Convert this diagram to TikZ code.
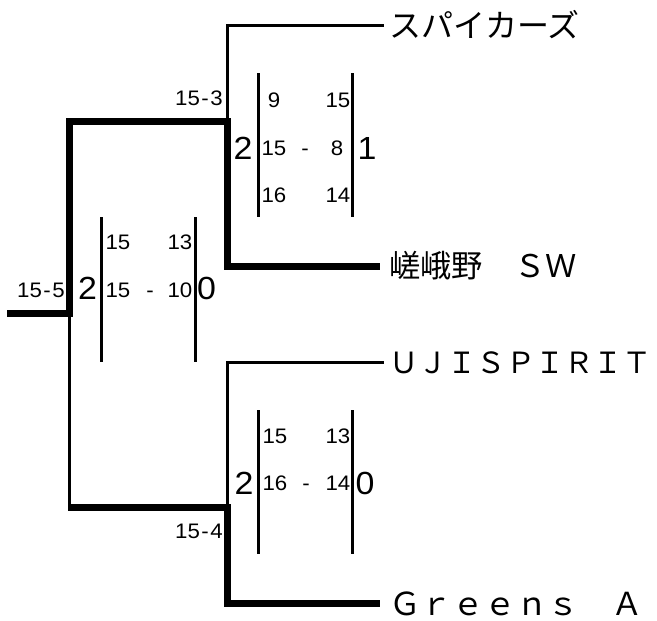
\documentclass[tikz,border=0pt]{standalone}
\usepackage{fontspec}
\setmainfont{Liberation Sans}
\newfontfamily\numfont[FakeStretch=1.06]{Liberation Sans}
\newfontfamily\jpfont{Noto Sans CJK JP}
\newcommand{\hy}{\kern1.5pt-\kern1.5pt}
\begin{document}
\begin{tikzpicture}[x=1pt,y=-1pt,
  thinline/.style={line width=3pt},
  thickline/.style={line width=7pt},
  bar/.style={line width=3pt},
  team/.style={anchor=west,inner sep=0pt,font=\jpfont\fontsize{#1}{#1}\selectfont},
  sc/.style={inner sep=0pt,text height=15pt,text depth=0pt,font=\numfont\fontsize{21}{21}\selectfont},
  big/.style={inner sep=0pt,text height=22.9pt,text depth=0pt,font=\numfont\fontsize{32}{32}\selectfont},
  lab/.style={sc,anchor=east}]
\useasboundingbox (0,0) rectangle (657,621);
% junctions
\coordinate (root) at (7,313.5);
\coordinate (f) at (69,313.5);
\coordinate (s1) at (227,121);
\coordinate (s2) at (227,507);
\coordinate (s2l) at (68,507);
% teams
\node[team=32] (t1) at (389,25) {スパイカーズ};
\node[team=31.3] (t2) at (389,266) {嵯峨野　ＳＷ};
\node[team=29.2] (t3) at (389,362.5) {ＵＪＩＳＰＩＲＩＴ};
\node[team=31.7] (t4) at (389,603.5) {Ｇｒｅｅｎｓ　Ａ};
% bracket
\draw[thinline] (s1) |- ([xshift=-5pt]t1.west);
\draw[thickline] (root) -- (f) |- (s1) |- ([xshift=-9pt]t2.west);
\draw[thinline] (f) -- (f |- s2);
\draw[thinline] (s2) |- ([xshift=-5pt]t3.west);
\draw[thickline] (s2l) -- (s2) |- ([xshift=-9pt]t4.west);
% semi-final 1
\draw[bar] (258,73) -- (258,217);
\draw[bar] (352,73) -- (352,217);
\node[big] (a1) at (243,148) {2};
\node[big] (a2) at (367,148) {1};
\node[sc] (a3) at (274,100) {9};
\node[sc] (a4) at (338,100) {15};
\node[sc] (a5) at (274,148) {15};
\node[sc] (a6) at (305,148) {-};
\node[sc] (a7) at (337,148) {8};
\node[sc] (a8) at (274,195) {16};
\node[sc] (a9) at (338,195) {14};
\node[lab] (a10) at (223,98) {15\hy3};
% final
\draw[bar] (101,217) -- (101,362);
\draw[bar] (195,217) -- (195,362);
\node[big] (b1) at (87.5,288) {2};
\node[big] (b2) at (206.5,288) {0};
\node[sc] (b3) at (118,242) {15};
\node[sc] (b4) at (180,242) {13};
\node[sc] (b5) at (118,290) {15};
\node[sc] (b6) at (150,290) {-};
\node[sc] (b7) at (180,290) {10};
\node[lab] (b8) at (65,290) {15\hy5};
% semi-final 2
\draw[bar] (258,410) -- (258,554);
\draw[bar] (352,410) -- (352,554);
\node[big] (c1) at (244,483) {2};
\node[big] (c2) at (365,483) {0};
\node[sc] (c3) at (275,436) {15};
\node[sc] (c4) at (338,436) {13};
\node[sc] (c5) at (275,483) {16};
\node[sc] (c6) at (306,483) {-};
\node[sc] (c7) at (338,483) {14};
\node[lab] (c8) at (223,531) {15\hy4};
\end{tikzpicture}
\end{document}
